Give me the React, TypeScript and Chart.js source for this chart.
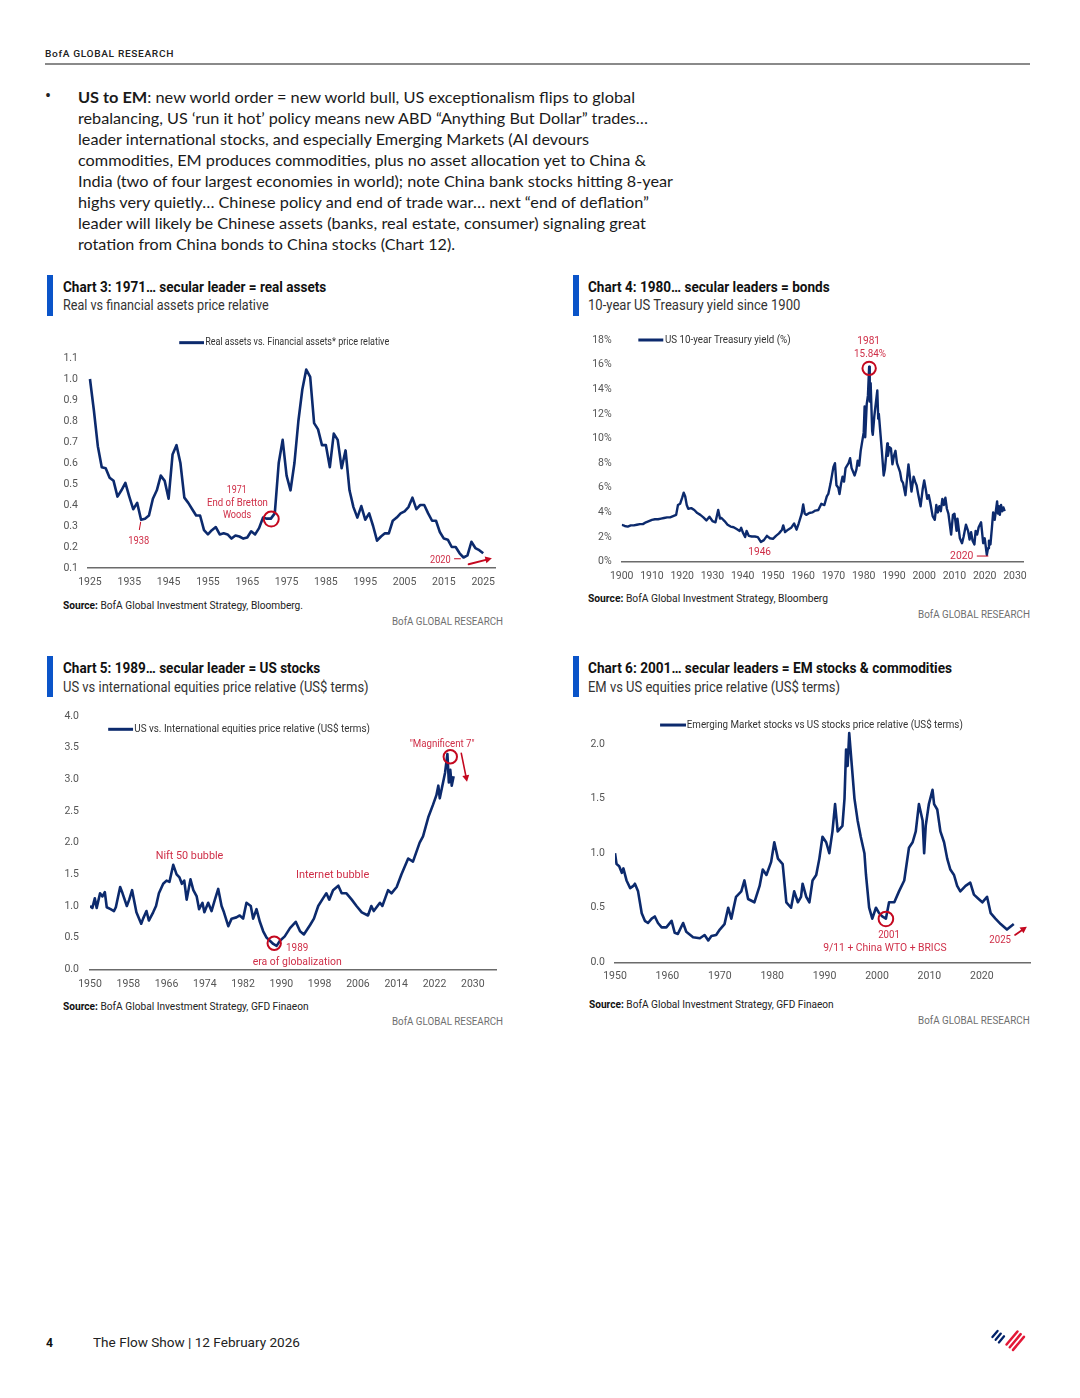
import React, { useEffect, useLayoutEffect, useRef } from 'react';
import { Chart, registerables } from 'chart.js';

Chart.register(...registerables);

const SANS = 'Roboto, "Noto Sans", Arial, sans-serif';
const BODY_FONT = 'Lato, Roboto, sans-serif';
const NAVY = '#0c2a6d';
const RED_TEXT = '#cf2e47';
const RED_MARK = '#c4081f';
const BAR_BLUE = '#0a54c9';

// ---------------- Chart 3: Real vs financial assets ----------------
const c3Years = [
  1925, 1926, 1927, 1928, 1929, 1930, 1931, 1932, 1933, 1934,
  1935, 1936, 1937, 1938, 1939, 1940, 1941, 1942, 1943, 1944,
  1945, 1946, 1947, 1948, 1949, 1950, 1951, 1952, 1953, 1954,
  1955, 1956, 1957, 1958, 1959, 1960, 1961, 1962, 1963, 1964,
  1965, 1966, 1967, 1968, 1969, 1970, 1971, 1972, 1973, 1974,
  1975, 1976, 1977, 1978, 1979, 1980, 1981, 1982, 1983, 1984,
  1985, 1986, 1987, 1988, 1989, 1990, 1991, 1992, 1993, 1994,
  1995, 1996, 1997, 1998, 1999, 2000, 2001, 2002, 2003, 2004,
  2005, 2006, 2007, 2008, 2009, 2010, 2011, 2012, 2013, 2014,
  2015, 2016, 2017, 2018, 2019, 2020, 2021, 2022, 2023, 2024,
  2025,
];
const c3Values = [
  1.0, 0.85, 0.68, 0.58, 0.575, 0.53, 0.515, 0.44, 0.47, 0.505,
  0.44, 0.38, 0.41, 0.33, 0.335, 0.35, 0.43, 0.47, 0.54, 0.515,
  0.43, 0.64, 0.685, 0.6, 0.435, 0.41, 0.38, 0.35, 0.35, 0.28,
  0.26, 0.28, 0.295, 0.26, 0.265, 0.26, 0.24, 0.255, 0.25, 0.24,
  0.245, 0.275, 0.26, 0.29, 0.34, 0.335, 0.335, 0.36, 0.6, 0.71,
  0.54, 0.47, 0.6, 0.8, 0.95, 1.045, 1.01, 0.79, 0.76, 0.685,
  0.685, 0.58, 0.74, 0.71, 0.575, 0.66, 0.47, 0.39, 0.34, 0.395,
  0.33, 0.36, 0.3, 0.23, 0.25, 0.265, 0.265, 0.325, 0.34, 0.36,
  0.37, 0.39, 0.435, 0.38, 0.4, 0.4, 0.36, 0.325, 0.325, 0.27,
  0.24, 0.235, 0.2, 0.2, 0.17, 0.15, 0.16, 0.225, 0.195, 0.185,
  0.17,
];
const c3XTicks = [1925, 1935, 1945, 1955, 1965, 1975, 1985, 1995, 2005, 2015, 2025];
const c3YTicks = [0.1, 0.2, 0.3, 0.4, 0.5, 0.6, 0.7, 0.8, 0.9, 1.0, 1.1];

// ---------------- Chart 4: US 10-year Treasury yield ----------------
const c4Years = [
  1900, 1901, 1902, 1903, 1904, 1905, 1906, 1907, 1908, 1909,
  1910, 1911, 1912, 1913, 1914, 1915, 1916, 1917, 1918, 1918.6,
  1919.3, 1920, 1920.5, 1921, 1921.5, 1922, 1923, 1924, 1925, 1926,
  1927, 1928, 1929, 1930, 1931, 1931.9, 1932.5, 1933, 1934, 1935,
  1936, 1937, 1938, 1939, 1939.5, 1940, 1940.8, 1941.3, 1942, 1943,
  1944, 1945, 1946, 1947, 1948, 1949, 1950, 1951, 1952, 1953,
  1953.4, 1954, 1955, 1956, 1957, 1957.8, 1958.5, 1959.5, 1960, 1960.5,
  1961, 1962, 1963, 1964, 1965, 1966, 1967, 1967.8, 1968.3, 1969,
  1970, 1970.5, 1971, 1971.6, 1972, 1972.5, 1973, 1973.5, 1974, 1975,
  1975.5, 1976, 1977, 1977.6, 1978, 1978.5, 1979, 1980, 1980.3, 1980.5,
  1981, 1981.4, 1981.8, 1982, 1982.3, 1982.8, 1983, 1983.5, 1984.5, 1984.8,
  1985, 1985.5, 1986, 1986.6, 1987, 1987.8, 1988, 1988.5, 1989, 1989.5,
  1990, 1990.5, 1991, 1992, 1992.5, 1993, 1993.8, 1994.8, 1995, 1995.8,
  1996.5, 1997, 1997.5, 1998, 1998.8, 1999.5, 2000, 2000.5, 2001, 2001.5,
  2002, 2002.8, 2003.5, 2004, 2004.5, 2005, 2005.5, 2006, 2006.5, 2007,
  2007.5, 2008, 2008.9, 2009.5, 2010, 2010.7, 2011, 2011.8, 2012.5, 2013,
  2013.8, 2014.5, 2015, 2015.5, 2016, 2016.6, 2017, 2017.5, 2018, 2018.8,
  2019.5, 2020, 2020.7, 2021.1, 2021.4, 2021.9, 2022.4, 2022.8, 2023.3, 2024.1,
  2024.4, 2024.7, 2025.0, 2025.4, 2025.8, 2026.2, 2026.6,
];
const c4Values = [
  3.0, 2.9, 2.85, 2.95, 2.95, 3.0, 3.05, 3.05, 3.2, 3.3,
  3.4, 3.45, 3.45, 3.5, 3.55, 3.6, 3.6, 3.7, 3.8, 4.6,
  4.7, 5.2, 5.6, 5.3, 4.6, 4.3, 4.35, 4.2, 3.95, 3.8,
  3.6, 3.35, 3.65, 3.3, 3.2, 4.2, 3.5, 3.55, 3.3, 3.0,
  2.85, 2.8, 2.65, 2.5, 2.75, 2.4, 2.0, 2.5, 2.1, 2.05,
  2.05, 2.0, 1.6, 1.75, 2.1, 1.9, 1.85, 2.1, 2.3, 2.6,
  2.95, 2.4, 2.6, 2.75, 3.1, 2.6, 3.1, 3.9, 4.65, 3.9,
  3.8, 3.95, 4.0, 4.15, 4.2, 4.7, 4.6, 5.3, 5.5, 6.3,
  7.7, 8.0, 6.2, 6.0, 5.5, 6.3, 6.9, 6.5, 7.6, 8.0,
  8.4, 7.6, 7.0, 7.5, 8.2, 7.8, 9.0, 10.5, 12.6, 10.1,
  12.8, 13.5, 15.84, 13.0, 14.5, 10.6, 10.3, 11.8, 13.9, 11.6,
  12.0, 10.5, 9.0, 7.0, 7.5, 9.6, 8.6, 9.3, 9.2, 7.9,
  8.6, 9.0, 8.0, 7.3, 6.6, 6.4, 5.4, 7.9, 7.5, 5.7,
  6.9, 6.5, 6.2, 5.5, 4.5, 5.9, 6.6, 5.9, 5.1, 5.4,
  4.8, 3.7, 3.4, 4.6, 4.0, 4.5, 4.1, 5.1, 4.6, 5.2,
  4.3, 3.9, 2.2, 3.8, 3.9, 2.5, 3.5, 1.9, 1.5, 2.0,
  3.0, 2.5, 1.8, 2.4, 1.7, 1.4, 2.5, 2.2, 2.8, 3.2,
  1.5, 1.9, 0.55, 1.1, 1.7, 1.4, 2.8, 4.0, 3.4, 4.9,
  3.9, 4.5, 3.8, 4.6, 4.1, 4.4, 4.1,
];
const c4XTicks = [1900, 1910, 1920, 1930, 1940, 1950, 1960, 1970, 1980, 1990, 2000, 2010, 2020, 2030];
const c4YTicks = [0, 2, 4, 6, 8, 10, 12, 14, 16, 18];

// ---------------- Chart 5: US vs international equities ----------------
const c5Years = [
  1950.0, 1950.5, 1951.0, 1951.4, 1952.1, 1952.6, 1953.1, 1953.5, 1954.3, 1955.0,
  1955.4, 1956.3, 1956.8, 1957.7, 1958.2, 1958.8, 1959.7, 1960.7, 1961.1, 1961.8,
  1962.3, 1963.2, 1963.8, 1964.4, 1965.3, 1966.0, 1966.6, 1967.4, 1968.1, 1968.7,
  1969.2, 1969.7, 1970.2, 1971.0, 1971.6, 1972.3, 1972.8, 1973.5, 1973.9, 1974.7,
  1975.4, 1976.1, 1976.8, 1977.5, 1978.0, 1978.9, 1979.6, 1980.6, 1981.3, 1982.0,
  1982.7, 1983.6, 1984.1, 1984.8, 1985.5, 1986.2, 1986.9, 1987.6, 1988.3, 1989.0,
  1989.7, 1990.7, 1991.8, 1993.0, 1993.9, 1994.7, 1996.0, 1996.8, 1997.7, 1998.7,
  1999.4, 2000.0, 2000.8, 2001.9, 2002.6, 2003.6, 2004.7, 2005.7, 2006.8, 2008.1,
  2008.8, 2009.3, 2010.6, 2011.1, 2012.3, 2013.0, 2014.1, 2015.1, 2016.5, 2017.5,
  2018.9, 2019.6, 2020.7, 2021.7, 2022.4, 2022.8, 2023.1, 2024.2, 2024.7, 2025.0,
  2025.3, 2025.6, 2026.0,
];
const c5Values = [
  1.0, 0.97, 1.12, 0.97, 1.2, 1.15, 1.22, 0.98, 0.95, 0.92,
  0.98, 1.3, 1.2, 1.0, 1.1, 1.25, 0.9, 0.72, 0.8, 0.92,
  0.77, 0.9, 1.0, 1.2, 1.35, 1.4, 1.38, 1.65, 1.5, 1.45,
  1.35, 1.4, 1.1, 1.42, 1.25, 1.15, 0.95, 1.05, 0.9, 1.05,
  0.92, 1.1, 1.27, 1.0, 0.9, 0.68, 0.8, 0.82, 0.85, 0.8,
  1.05, 1.0, 0.8, 0.95, 0.75, 0.6, 0.5, 0.45, 0.4, 0.37,
  0.45, 0.52, 0.65, 0.75, 0.6, 0.55, 0.7, 0.8, 1.0, 1.12,
  1.2, 1.1, 1.25, 1.32, 1.2, 1.2, 1.1, 1.0, 0.9, 0.85,
  1.0, 0.92, 1.05, 1.0, 1.25, 1.2, 1.3, 1.5, 1.75, 1.7,
  2.0, 2.1, 2.4, 2.6, 2.75, 2.9, 2.7, 3.1, 3.4, 2.95,
  3.15, 2.9, 3.05,
];
const c5XTicks = [1950, 1958, 1966, 1974, 1982, 1990, 1998, 2006, 2014, 2022, 2030];
const c5YTicks = [0, 0.5, 1.0, 1.5, 2.0, 2.5, 3.0, 3.5, 4.0];

// ---------------- Chart 6: EM vs US equities ----------------
const c6Years = [
  1950.0, 1950.3, 1950.8, 1951.3, 1951.6, 1952.2, 1952.9, 1953.5, 1953.8, 1954.4,
  1955.1, 1955.7, 1956.3, 1957.0, 1957.6, 1958.2, 1958.9, 1959.8, 1960.8, 1961.4,
  1962.0, 1963.0, 1963.6, 1964.9, 1966.2, 1967.1, 1967.8, 1968.4, 1969.3, 1970.0,
  1970.9, 1971.6, 1972.2, 1973.1, 1974.1, 1974.7, 1975.4, 1976.6, 1977.6, 1978.2,
  1978.9, 1979.8, 1980.4, 1981.1, 1982.0, 1982.7, 1983.6, 1984.2, 1984.9, 1985.5,
  1985.8, 1986.5, 1987.1, 1987.7, 1988.4, 1989.0, 1989.6, 1990.3, 1990.9, 1991.5,
  1992.0, 1992.5, 1993.4, 1993.8, 1994.1, 1994.4, 1994.7, 1995.2, 1995.7, 1996.3,
  1996.9, 1997.6, 1997.9, 1998.5, 1999.1, 1999.8, 2000.4, 2001.0, 2001.7, 2002.3,
  2003.3, 2004.2, 2005.2, 2006.1, 2006.8, 2007.4, 2008.0, 2008.7, 2009.0, 2009.3,
  2009.9, 2010.6, 2010.9, 2011.5, 2012.1, 2012.8, 2013.4, 2014.0, 2014.7, 2015.3,
  2015.9, 2016.9, 2017.8, 2018.5, 2019.4, 2020.1, 2021.0, 2021.7, 2022.6, 2023.6,
  2024.8, 2026.1,
];
const c6Values = [
  1.0, 0.9, 0.88, 0.82, 0.86, 0.75, 0.68, 0.7, 0.72, 0.65,
  0.45, 0.38, 0.36, 0.4, 0.42, 0.36, 0.32, 0.32, 0.38, 0.27,
  0.26, 0.36, 0.28, 0.23, 0.22, 0.25, 0.2, 0.24, 0.25, 0.3,
  0.35, 0.5, 0.4, 0.6, 0.65, 0.75, 0.58, 0.55, 0.7, 0.85,
  0.8, 0.92, 1.1, 0.95, 0.9, 0.55, 0.5, 0.65, 0.55, 0.6,
  0.72, 0.6, 0.55, 0.75, 0.8, 0.95, 1.15, 1.1, 1.0, 1.2,
  1.45, 1.2, 1.25, 1.5, 1.95, 1.8, 2.1, 1.8, 1.5, 1.3,
  1.15, 1.0, 0.8, 0.5, 0.4, 0.5, 0.45, 0.42, 0.4, 0.55,
  0.55, 0.65, 0.75, 1.05, 1.1, 1.2, 1.45, 1.3, 1.0, 1.25,
  1.45, 1.58, 1.45, 1.4, 1.2, 1.1, 0.95, 0.85, 0.8, 0.7,
  0.65, 0.7, 0.73, 0.62, 0.58, 0.55, 0.6, 0.45, 0.4, 0.35,
  0.3, 0.35,
];
const c6XTicks = [1950, 1960, 1970, 1980, 1990, 2000, 2010, 2020];
const c6YTicks = [0, 0.5, 1.0, 1.5, 2.0];

// ---------------- annotation plugin ----------------
type Ann = { [k: string]: any };

function annPlugin(items: Ann[]) {
  return {
    id: 'anns',
    afterDraw(chart: any) {
      const ctx: CanvasRenderingContext2D = chart.ctx;
      const sx = chart.scales.x;
      const sy = chart.scales.y;
      const px = (v: number) => sx.getPixelForValue(v);
      const py = (v: number) => sy.getPixelForValue(v);
      ctx.save();
      for (const a of items) {
        if (a.t === 'text') {
          ctx.font = `${a.weight || 400} ${a.size || 10.5}px ${SANS}`;
          ctx.fillStyle = a.color || RED_TEXT;
          ctx.textBaseline = 'middle';
          ctx.textAlign = 'left';
          const m = ctx.measureText(a.text).width;
          const s = m > 0 ? a.w / m : 1;
          const x0 = a.align === 'left' ? px(a.x) : px(a.x) - a.w / 2;
          ctx.save();
          ctx.translate(x0, py(a.y));
          ctx.scale(s, 1);
          ctx.fillText(a.text, 0, 0);
          ctx.restore();
        } else if (a.t === 'circle') {
          ctx.beginPath();
          ctx.strokeStyle = RED_MARK;
          ctx.lineWidth = 2;
          ctx.arc(px(a.x), py(a.y), a.r, 0, Math.PI * 2);
          ctx.stroke();
        } else if (a.t === 'line' || a.t === 'arrow') {
          const x1 = px(a.x1), y1 = py(a.y1), x2 = px(a.x2), y2 = py(a.y2);
          ctx.beginPath();
          ctx.strokeStyle = a.color || RED_MARK;
          ctx.lineWidth = a.w || 1.2;
          ctx.lineCap = a.t === 'arrow' ? 'round' : 'butt';
          const ang = Math.atan2(y2 - y1, x2 - x1);
          const head = 6.5;
          const ex = a.t === 'arrow' ? x2 - Math.cos(ang) * head * 0.8 : x2;
          const ey = a.t === 'arrow' ? y2 - Math.sin(ang) * head * 0.8 : y2;
          ctx.moveTo(x1, y1);
          ctx.lineTo(ex, ey);
          ctx.stroke();
          if (a.t === 'arrow') {
            ctx.beginPath();
            ctx.fillStyle = a.color || RED_MARK;
            ctx.moveTo(x2, y2);
            ctx.lineTo(x2 - Math.cos(ang) * head + Math.sin(ang) * 3.5, y2 - Math.sin(ang) * head - Math.cos(ang) * 3.5);
            ctx.lineTo(x2 - Math.cos(ang) * head - Math.sin(ang) * 3.5, y2 - Math.sin(ang) * head + Math.cos(ang) * 3.5);
            ctx.closePath();
            ctx.fill();
          }
        }
      }
      ctx.restore();
    },
  };
}

interface ChartSpec {
  xs: number[];
  ys: number[];
  xMin: number;
  xMax: number;
  xTicks: number[];
  yMin: number;
  yMax: number;
  yTicks: number[];
  yFmt: (v: number) => string;
  yW: number;
  xH: number;
  padTop: number;
  padRight: number;
  yPad: number;
  xPad: number;
  lineW: number;
  anns: Ann[];
}

function buildConfig(s: ChartSpec): any {
  return {
    type: 'line',
    data: {
      datasets: [
        {
          data: s.xs.map((x, i) => ({ x, y: s.ys[i] })),
          borderColor: NAVY,
          borderWidth: s.lineW,
          pointRadius: 0,
          tension: 0,
          fill: false,
          borderJoinStyle: 'round',
        },
      ],
    },
    options: {
      animation: false,
      responsive: false,
      maintainAspectRatio: false,
      events: [],
      layout: { padding: { top: s.padTop, right: s.padRight, bottom: 0, left: 0 } },
      plugins: { legend: { display: false }, tooltip: { enabled: false }, title: { display: false } },
      scales: {
        x: {
          type: 'linear',
          min: s.xMin,
          max: s.xMax,
          grid: { display: false, drawTicks: false },
          border: { display: true, color: '#6b6b6b', width: 1.6 },
          ticks: {
            autoSkip: false,
            maxRotation: 0,
            minRotation: 0,
            padding: s.xPad,
            color: '#555',
            font: { size: 10.5, family: SANS },
            callback: (v: any) => String(v),
          },
          afterBuildTicks: (sc: any) => {
            sc.ticks = s.xTicks.map((v) => ({ value: v }));
          },
          afterFit: (sc: any) => {
            sc.height = s.xH;
            sc.paddingLeft = 0;
            sc.paddingRight = 0;
          },
        },
        y: {
          type: 'linear',
          min: s.yMin,
          max: s.yMax,
          grid: { display: false, drawTicks: false },
          border: { display: false },
          ticks: {
            padding: s.yPad,
            color: '#555',
            font: { size: 10.5, family: SANS },
            callback: (v: any) => s.yFmt(Number(v)),
          },
          afterBuildTicks: (sc: any) => {
            sc.ticks = s.yTicks.map((v) => ({ value: v }));
          },
          afterFit: (sc: any) => {
            sc.width = s.yW;
            sc.paddingTop = 0;
            sc.paddingBottom = 0;
          },
        },
      },
    },
    plugins: [annPlugin(s.anns)],
  };
}

function LineChart({ left, top, width, height, spec }: { left: number; top: number; width: number; height: number; spec: ChartSpec }) {
  const ref = useRef<HTMLCanvasElement>(null);
  useEffect(() => {
    const chart = new Chart(ref.current as HTMLCanvasElement, buildConfig(spec));
    return () => chart.destroy();
  }, []);
  return <canvas ref={ref} width={width} height={height} style={{ position: 'absolute', left, top, width, height }} />;
}

function FitText(props: { x: number; cy: number; w: number; size: number; weight?: number; color?: string; family?: string; ls?: number; children: any }) {
  const { x, cy, w, size, weight = 400, color = '#222', family = SANS, ls = 0, children } = props;
  const ref = useRef<HTMLSpanElement>(null);
  useLayoutEffect(() => {
    const el = ref.current;
    if (!el) return;
    el.style.transform = 'none';
    const a = el.getBoundingClientRect().width;
    if (a > 0) el.style.transform = `scaleX(${w / a})`;
  }, [w]);
  const lh = Math.round(size * 1.3);
  return (
    <span
      ref={ref}
      style={{
        position: 'absolute',
        left: x,
        top: cy - lh / 2,
        lineHeight: lh + 'px',
        fontSize: size,
        fontWeight: weight,
        color,
        fontFamily: family,
        letterSpacing: ls,
        whiteSpace: 'nowrap',
        display: 'inline-block',
        transformOrigin: '0 50%',
      }}
    >
      {children}
    </span>
  );
}

const fmt1 = (v: number) => v.toFixed(1);
const fmtPct = (v: number) => `${v}%`;

const c3Spec: ChartSpec = {
  xs: c3Years, ys: c3Values, xMin: 1924.5, xMax: 2028, xTicks: c3XTicks,
  yMin: 0.1, yMax: 1.1, yTicks: c3YTicks, yFmt: fmt1,
  yW: 48, xH: 27, padTop: 28, padRight: 20, yPad: 10, xPad: 8.4, lineW: 2.6,
  anns: [
    { t: 'line', x1: 1947.7, y1: 1.173, x2: 1954.0, y2: 1.173, color: NAVY, w: 3 },
    { t: 'text', x: 1954.3, y: 1.173, text: 'Real assets vs. Financial assets* price relative', w: 184, align: 'left', color: '#333', size: 10 },
    { t: 'text', x: 1962.3, y: 0.471, text: '1971', w: 20 },
    { t: 'text', x: 1962.5, y: 0.408, text: 'End of Bretton', w: 61 },
    { t: 'text', x: 1962.4, y: 0.352, text: 'Woods', w: 28.3 },
    { t: 'circle', x: 1971.1, y: 0.333, r: 7.5 },
    { t: 'text', x: 1937.4, y: 0.225, text: '1938', w: 21 },
    { t: 'line', x1: 1937.55, y1: 0.281, x2: 1937.9, y2: 0.32, w: 1 },
    { t: 'text', x: 2014.1, y: 0.138, text: '2020', w: 20.7 },
    { t: 'line', x1: 2017.6, y1: 0.144, x2: 2019.3, y2: 0.144, w: 1 },
    { t: 'arrow', x1: 2021.3, y1: 0.118, x2: 2027.2, y2: 0.146, w: 2 },
  ],
};

const c4Spec: ChartSpec = {
  xs: c4Years, ys: c4Values, xMin: 1900, xMax: 2032.66, xTicks: c4XTicks,
  yMin: 0, yMax: 18, yTicks: c4YTicks, yFmt: fmtPct,
  yW: 41.7, xH: 28.3, padTop: 10, padRight: 12, yPad: 10, xPad: 8.7, lineW: 2.4,
  anns: [
    { t: 'line', x1: 1905.5, y1: 18, x2: 1913.75, y2: 18, color: NAVY, w: 3 },
    { t: 'text', x: 1914.3, y: 18, text: 'US 10-year Treasury yield (%)', w: 125.7, align: 'left', color: '#333', size: 10 },
    { t: 'text', x: 1981.65, y: 17.86, text: '1981', w: 22.7 },
    { t: 'text', x: 1982.1, y: 16.84, text: '15.84%', w: 32 },
    { t: 'circle', x: 1981.8, y: 15.7, r: 6.7 },
    { t: 'text', x: 1945.6, y: 0.73, text: '1946', w: 22.7 },
    { t: 'text', x: 2012.4, y: 0.46, text: '2020', w: 23.3 },
    { t: 'line', x1: 2017.4, y1: 0.46, x2: 2021.2, y2: 0.46, w: 1 },
  ],
};

const c5Spec: ChartSpec = {
  xs: c5Years, ys: c5Values, xMin: 1950, xMax: 2035, xTicks: c5XTicks,
  yMin: 0, yMax: 4, yTicks: c5YTicks, yFmt: fmt1,
  yW: 50, xH: 25.7, padTop: 11, padRight: 18.3, yPad: 11, xPad: 8.4, lineW: 2.6,
  anns: [
    { t: 'line', x1: 1953.8, y1: 3.79, x2: 1959.0, y2: 3.79, color: NAVY, w: 3 },
    { t: 'text', x: 1959.25, y: 3.79, text: 'US vs. International equities price relative (US$ terms)', w: 235.7, align: 'left', color: '#333', size: 10 },
    { t: 'text', x: 2023.6, y: 3.553, text: '"Magnificent 7"', w: 65 },
    { t: 'circle', x: 2025.3, y: 3.357, r: 6.7 },
    { t: 'arrow', x1: 2027.6, y1: 3.411, x2: 2028.8, y2: 2.962, w: 1.6 },
    { t: 'text', x: 1970.8, y: 1.789, text: 'Nift 50 bubble', w: 67.6 },
    { t: 'text', x: 2000.7, y: 1.489, text: 'Internet bubble', w: 73.3 },
    { t: 'circle', x: 1988.5, y: 0.411, r: 6.7 },
    { t: 'text', x: 1993.3, y: 0.332, text: '1989', w: 22.3 },
    { t: 'text', x: 1993.3, y: 0.111, text: 'era of globalization', w: 89 },
  ],
};

const c6Spec: ChartSpec = {
  xs: c6Years, ys: c6Values, xMin: 1950, xMax: 2029.2, xTicks: c6XTicks,
  yMin: 0, yMax: 2.2, yTicks: c6YTicks, yFmt: fmt1,
  yW: 35, xH: 27.7, padTop: 17.2, padRight: 5, yPad: 10, xPad: 8.1, lineW: 2.6,
  anns: [
    { t: 'line', x1: 1958.6, y1: 2.174, x2: 1963.55, y2: 2.174, color: NAVY, w: 3 },
    { t: 'text', x: 1963.7, y: 2.174, text: 'Emerging Market stocks vs US stocks price relative (US$ terms)', w: 276, align: 'left', color: '#333', size: 10 },
    { t: 'circle', x: 2001.7, y: 0.397, r: 7.3 },
    { t: 'text', x: 2002.3, y: 0.25, text: '2001', w: 21.7 },
    { t: 'text', x: 2001.5, y: 0.128, text: '9/11 + China WTO + BRICS', w: 123.4 },
    { t: 'text', x: 2023.5, y: 0.198, text: '2025', w: 21.7 },
    { t: 'arrow', x1: 2026.35, y1: 0.251, x2: 2028.6, y2: 0.326, w: 1.8 },
  ],
};

function Bar({ x, y, h }: { x: number; y: number; h: number }) {
  return <div style={{ position: 'absolute', left: x, top: y, width: 6, height: h, background: BAR_BLUE }} />;
}

function Source({ x, cy, w, text }: { x: number; cy: number; w: number; text: string }) {
  return (
    <FitText x={x} cy={cy} w={w} size={11} color="#222">
      <b style={{ color: '#111' }}>Source:</b> {text}
    </FitText>
  );
}

// logo stripes: parallel diagonal strokes
const LOGO_DIR = [0.64, -0.77];
const LOGO_PERP = [0.77, 0.64];
function stripe(cx: number, cy: number, len: number) {
  const hx = (LOGO_DIR[0] * len) / 2;
  const hy = (LOGO_DIR[1] * len) / 2;
  return `M${cx - hx} ${cy - hy} L${cx + hx} ${cy + hy}`;
}

export default function App() {
  const blue = [0, 1, 2].map((k) => stripe(995 + k * 4.2 * LOGO_PERP[0], 1334 + k * 4.2 * LOGO_PERP[1], 8));
  const red = [0, 1, 2].map((k) => stripe(1012 + k * 4.2 * LOGO_PERP[0], 1338 + k * 4.2 * LOGO_PERP[1], 17));
  return (
    <div style={{ position: 'absolute', left: 0, top: 0, width: 1080, height: 1398, background: '#fff', overflow: 'hidden' }}>
      <FitText x={45} cy={53.5} w={129} size={9.5} weight={500} ls={0.6} color="#222">BofA GLOBAL RESEARCH</FitText>
      <div style={{ position: 'absolute', left: 45, top: 63, width: 985, height: 2, background: '#8a8a8a' }} />

      <span style={{ position: 'absolute', left: 45, top: 86, fontSize: 18, lineHeight: '20px', color: '#222', fontFamily: SANS }}>•</span>
      <FitText x={78} cy={96} w={557} size={16} family={BODY_FONT} color="#1a1a1a">
        <b>US to EM</b>: new world order = new world bull, US exceptionalism flips to global
      </FitText>
      <FitText x={78} cy={117} w={570} size={16} family={BODY_FONT} color="#1a1a1a">
        rebalancing, US ‘run it hot’ policy means new ABD “Anything But Dollar” trades…
      </FitText>
      <FitText x={78} cy={138} w={511} size={16} family={BODY_FONT} color="#1a1a1a">
        leader international stocks, and especially Emerging Markets (AI devours
      </FitText>
      <FitText x={78} cy={159} w={568} size={16} family={BODY_FONT} color="#1a1a1a">
        commodities, EM produces commodities, plus no asset allocation yet to China &amp;
      </FitText>
      <FitText x={78} cy={180} w={595} size={16} family={BODY_FONT} color="#1a1a1a">
        India (two of four largest economies in world); note China bank stocks hitting 8-year
      </FitText>
      <FitText x={78} cy={201} w={571} size={16} family={BODY_FONT} color="#1a1a1a">
        highs very quietly… Chinese policy and end of trade war… next “end of deflation”
      </FitText>
      <FitText x={78} cy={222} w={568} size={16} family={BODY_FONT} color="#1a1a1a">
        leader will likely be Chinese assets (banks, real estate, consumer) signaling great
      </FitText>
      <FitText x={78} cy={243} w={377} size={16} family={BODY_FONT} color="#1a1a1a">
        rotation from China bonds to China stocks (Chart 12).
      </FitText>

      {/* Chart 3 */}
      <Bar x={46.5} y={275} h={40.5} />
      <FitText x={62.7} cy={287.3} w={263.3} size={15} weight={700} color="#111">Chart 3: 1971… secular leader = real assets</FitText>
      <FitText x={62.7} cy={305.7} w={205.6} size={14.5} color="#333">Real vs financial assets price relative</FitText>
      <LineChart left={40} top={330} width={475} height={265} spec={c3Spec} />
      <Source x={62.7} cy={605.7} w={240} text="BofA Global Investment Strategy, Bloomberg." />
      <FitText x={392.3} cy={621.7} w={111} size={11} color="#6f6f6f">BofA GLOBAL RESEARCH</FitText>

      {/* Chart 4 */}
      <Bar x={573} y={275} h={40.5} />
      <FitText x={588.3} cy={287.3} w={241.7} size={15} weight={700} color="#111">Chart 4: 1980… secular leaders = bonds</FitText>
      <FitText x={588.3} cy={305.7} w={212.4} size={14.5} color="#333">10-year US Treasury yield since 1900</FitText>
      <LineChart left={580} top={330} width={455} height={260} spec={c4Spec} />
      <Source x={588.3} cy={599} w={240} text="BofA Global Investment Strategy, Bloomberg" />
      <FitText x={918} cy={615} w={112} size={11} color="#6f6f6f">BofA GLOBAL RESEARCH</FitText>

      {/* Chart 5 */}
      <Bar x={46.5} y={656} h={41} />
      <FitText x={62.7} cy={668.3} w={257.3} size={15} weight={700} color="#111">Chart 5: 1989… secular leader = US stocks</FitText>
      <FitText x={62.7} cy={687.3} w={305.6} size={14.5} color="#333">US vs international equities price relative (US$ terms)</FitText>
      <LineChart left={40} top={705} width={475} height={290} spec={c5Spec} />
      <Source x={62.7} cy={1006.7} w={245.6} text="BofA Global Investment Strategy, GFD Finaeon" />
      <FitText x={392.3} cy={1022.3} w={111} size={11} color="#6f6f6f">BofA GLOBAL RESEARCH</FitText>

      {/* Chart 6 */}
      <Bar x={573} y={656} h={41} />
      <FitText x={588.3} cy={668.3} w={364} size={15} weight={700} color="#111">Chart 6: 2001… secular leaders = EM stocks &amp; commodities</FitText>
      <FitText x={588.3} cy={687.3} w={252} size={14.5} color="#333">EM vs US equities price relative (US$ terms)</FitText>
      <LineChart left={580} top={705} width={455} height={285} spec={c6Spec} />
      <Source x={589.3} cy={1005} w={244.7} text="BofA Global Investment Strategy, GFD Finaeon" />
      <FitText x={918.3} cy={1021} w={111.7} size={11} color="#6f6f6f">BofA GLOBAL RESEARCH</FitText>

      {/* Footer */}
      <FitText x={46} cy={1342} w={7} size={13} weight={700} color="#111">4</FitText>
      <FitText x={93} cy={1342} w={207} size={13.5} color="#222">The Flow Show | 12 February 2026</FitText>
      <svg style={{ position: 'absolute', left: 984, top: 1324, width: 50, height: 32 }} viewBox="984 1324 50 32">
        <g strokeLinecap="round" fill="none">
          {blue.map((d, i) => (
            <path key={'b' + i} d={d} stroke="#012169" strokeWidth={2.3} />
          ))}
          {red.map((d, i) => (
            <path key={'r' + i} d={d} stroke="#e31837" strokeWidth={2.5} />
          ))}
        </g>
      </svg>
    </div>
  );
}
